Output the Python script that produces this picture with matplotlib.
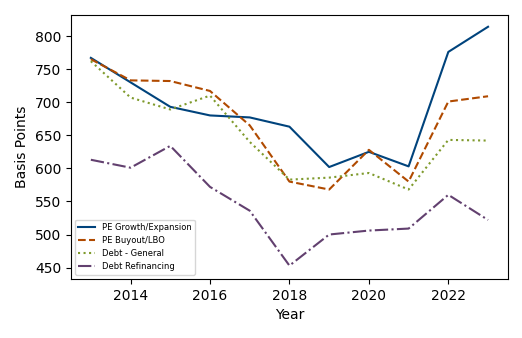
import numpy as np
import matplotlib.pyplot as plt

years = [2013, 2014, 2015, 2016, 2017, 2018, 2019, 2020, 2021, 2022, 2023]
pe_growth = [767, 730, 693, 680, 677, 663, 602, 625, 603, 776, 814]
pe_buyout = [765, 733, 732, 717, 665, 580, 568, 628, 580, 701, 709]
debt_general = [762, 707, 689, 710, 640, 583, 586, 593, 568, 643, 642]
debt_refi = [613, 601, 634, 572, 536, 453, 500, 506, 509, 560, 522]

fig = plt.figure(figsize=(5.22, 3.38), dpi=100)
ax = fig.add_axes([0.136, 0.175, 0.837, 0.781])

ax.plot(years, pe_growth, '-', color='#00437c', lw=1.5, label='PE Growth/Expansion')
ax.plot(years, pe_buyout, '--', color='#b04a00', lw=1.5, label='PE Buyout/LBO')
ax.plot(years, debt_general, ':', color='#7f9a2c', lw=1.5, label='Debt - General')
ax.plot(years, debt_refi, '-.', color='#62406f', lw=1.5, label='Debt Refinancing')

ax.set_ylim(433, 832)
ax.set_xlim(2012.5, 2023.5)
ax.set_xticks([2014, 2016, 2018, 2020, 2022])
ax.set_yticks([450, 500, 550, 600, 650, 700, 750, 800])
ax.set_xlabel('Year')
ax.set_ylabel('Basis Points')
ax.legend(loc='lower left', fontsize=6)

fig.savefig('out.png')
